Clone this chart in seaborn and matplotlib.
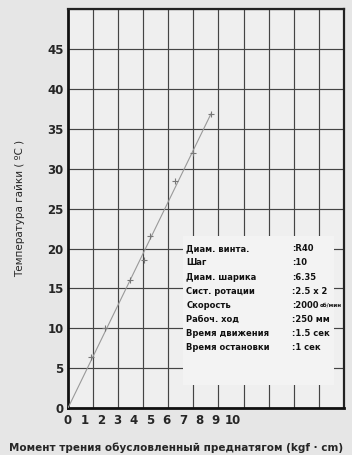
import numpy as np
import matplotlib
matplotlib.use("Agg")
import matplotlib.pyplot as plt
import seaborn as sns
import pandas as pd

# Data
torque = [1.4, 2.25, 3.8, 4.6, 5.0, 6.5, 7.6, 8.7]
temperature = [6.4, 10.0, 16.0, 18.5, 21.6, 28.5, 32.0, 36.9]
fit_x = [0.0, 8.7]
fit_y = [0.0, 36.9]
x_ticks = list(range(0, 11))
y_ticks = list(range(0, 50, 5))
spec_labels = ["Диам. винта.", "Шаг", "Диам. шарика", "Сист. ротации",
               "Скорость", "Рабоч. ход", "Время движения", "Время остановки"]
spec_values = [":R40", ":10", ":6.35", ":2.5 x 2",
               ":2000", ":250 мм", ":1.5 сек", ":1 сек"]
spec_units = ["", "", "", "", "об/мин", "", "", ""]

sns.set_theme(style="white")
plt.rcParams['font.family'] = ['DejaVu Sans']

fig = plt.figure(figsize=(3.52, 4.55), dpi=100, facecolor="#e6e6e6")
ax = fig.add_axes([0.193, 0.103, 0.784, 0.877])
ax.set_facecolor("#efefef")

df = pd.DataFrame({"x": torque, "y": temperature})
fit = pd.DataFrame({"x": fit_x, "y": fit_y})

grid_step = 1.525
ax.set_xlim(0, grid_step * 11)
ax.set_ylim(0, 50)

# grid
ax.set_xticks(np.arange(0, grid_step * 11 + 0.01, grid_step), minor=True)
ax.set_yticks(y_ticks + [50])
ax.set_yticklabels([str(v) for v in y_ticks] + [""])
ax.set_xticks(x_ticks)
ax.set_xticklabels([str(v) for v in x_ticks])
ax.grid(which="minor", axis="x", color="#444444", linewidth=0.85, zorder=0)
ax.grid(which="major", axis="y", color="#444444", linewidth=0.85, zorder=0)
ax.grid(which="major", axis="x", visible=False)
ax.tick_params(which="both", length=0, labelsize=8.5, pad=3)
for lab in ax.get_xticklabels() + ax.get_yticklabels():
    lab.set_fontweight("bold")
ax.tick_params(axis="x", pad=4)

sns.lineplot(data=fit, x="x", y="y", ax=ax, color="#999999", linewidth=0.8, zorder=3)
sns.scatterplot(data=df, x="x", y="y", ax=ax, marker="+", color="#777777",
                s=14, linewidth=0.8, zorder=4)

# spec box
ax.fill_between([7.0, 16.2], [2.9, 2.9], [21.6, 21.6], color="#f3f3f3", zorder=2, linewidth=0)
row_y = [20.0, 18.2, 16.4, 14.6, 12.9, 11.1, 9.4, 7.6]
for lbl, val, unit, yy in zip(spec_labels, spec_values, spec_units, row_y):
    ax.text(7.2, yy, lbl, fontsize=6.0, fontweight="bold", va="center", ha="left",
            zorder=5, color="#111111")
    t = ax.text(13.6, yy, val, fontsize=6.0, fontweight="bold", va="center", ha="left",
                zorder=5, color="#111111")
    if unit:
        ax.annotate(unit, xy=(1, 0.5), xycoords=t, xytext=(1, 0), textcoords="offset points",
                    fontsize=4.0, fontweight="bold", va="center", ha="left",
                    zorder=5, color="#111111")

for side in ["left", "bottom"]:
    ax.spines[side].set_linewidth(2.0)
    ax.spines[side].set_color("#111111")
for side in ["top", "right"]:
    ax.spines[side].set_linewidth(1.6)
    ax.spines[side].set_color("#222222")

ax.set_ylabel("Температура гайки ( ºC )", fontsize=7.5, labelpad=16)
ax.set_xlabel("Момент трения обусловленный преднатягом (kgf · cm)", fontsize=7.5,
              fontweight="bold", labelpad=10)
ax.xaxis.set_label_coords(0.39, -0.085)

fig.savefig("out.png", dpi=100, facecolor=fig.get_facecolor())
